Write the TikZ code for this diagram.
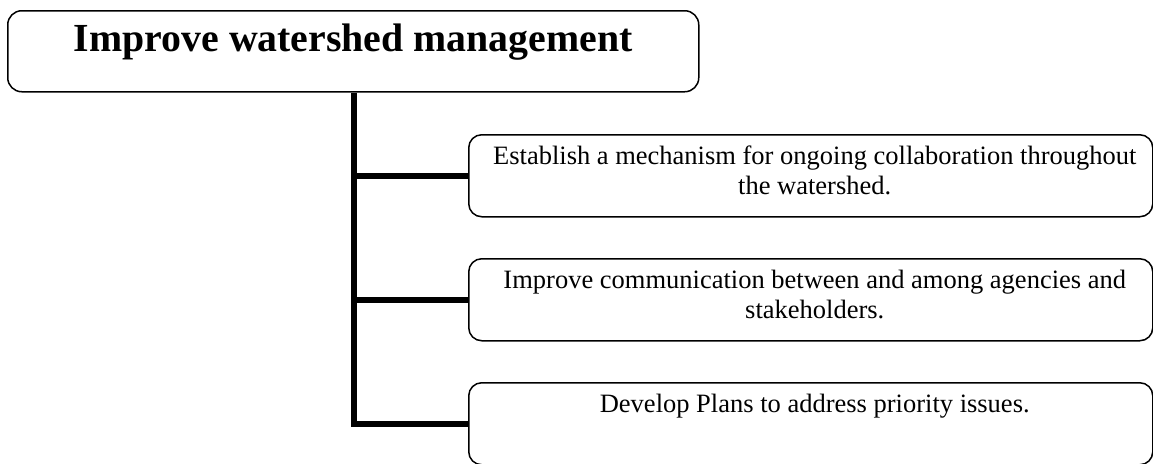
\documentclass[tikz,border=0pt]{standalone}
\usepackage{fontspec}
\setmainfont{Liberation Serif}
\usetikzlibrary{positioning}

\tikzset{
  goalbox/.style={draw, rounded corners=14pt, line width=1.5pt, anchor=north west,
    minimum width=691pt, minimum height=81pt, inner sep=0pt},
  stepbox/.style={draw, rounded corners=13pt, line width=1.5pt, anchor=north west,
    minimum width=684pt, minimum height=82pt, inner sep=0pt},
  steptext/.style={anchor=north, align=center, font=\fontsize{26.5}{30}\selectfont, inner sep=0pt},
  trunk/.style={line width=6pt}
}

\begin{document}
\begin{tikzpicture}[x=1pt,y=-1pt]
	\useasboundingbox (0,0) rectangle (1153,463);
	% goal
	\node [goalbox] (goal) at (7,10) {};
	\node [anchor=north, inner sep=0pt, font=\fontsize{39.8}{44}\selectfont\bfseries] (goaltext) at ([yshift=-14pt]goal.north) {Improve watershed management};
	% steps
	\node [stepbox] (stepa) at (468,134) {};
	\node [steptext] (stepatext) at ([xshift=4pt,yshift=-12pt]stepa.north) {Establish a mechanism for ongoing collaboration throughout\\the watershed.};
	\node [stepbox] (stepb) at (468,258) {};
	\node [steptext] (stepbtext) at ([xshift=4pt,yshift=-12pt]stepb.north) {Improve communication between and among agencies and\\stakeholders.};
	\node [stepbox] (stepc) at (468,382) {};
	\node [steptext] (stepctext) at ([xshift=4pt,yshift=-12pt]stepc.north) {Develop Plans to address priority issues.};
	% connectors
	\coordinate (top) at (goal.south -| 354,0);
	\coordinate (bend) at (354,423);
	\draw [trunk] (top) -- (bend |- stepc.west) -- (stepc.west);
	\draw [trunk] (bend |- stepa.west) -- (stepa.west);
	\draw [trunk] (bend |- stepb.west) -- (stepb.west);
\end{tikzpicture}
\end{document}
